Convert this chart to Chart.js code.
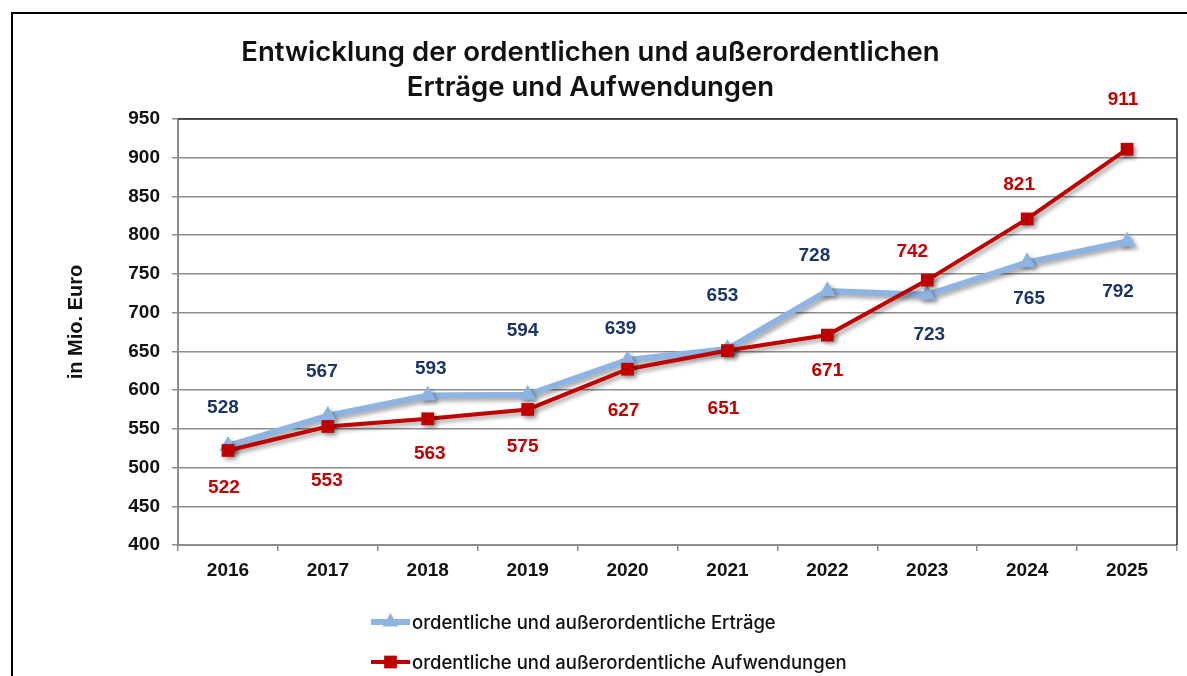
<!DOCTYPE html>
<html>
<head>
<meta charset="utf-8">
<script src="https://cdn.jsdelivr.net/npm/chart.js"></script>
<style>
  html, body { margin: 0; padding: 0; background: #fff; }
  #wrap { position: relative; width: 1187px; height: 676px; overflow: hidden; }
  #frame { position: absolute; left: 11px; top: 12px; width: 1300px; height: 800px;
           border-left: 2px solid #000; border-top: 2px solid #000; box-sizing: border-box; pointer-events: none; }
  canvas { position: absolute; left: 0; top: 0; }
</style>
</head>
<body>
<div id="wrap">
  <canvas id="c"></canvas>
  <div id="frame"></div>
</div>
<script>
// ---- data ----
const categories = ['2016','2017','2018','2019','2020','2021','2022','2023','2024','2025'];
const ertraege = [528, 567, 593, 594, 639, 653, 728, 723, 765, 792];
const aufwendungen = [522, 553, 563, 575, 627, 651, 671, 742, 821, 911];
const seriesNames = ['ordentliche und außerordentliche Erträge', 'ordentliche und außerordentliche Aufwendungen'];
const titleLines = ['Entwicklung der ordentlichen und außerordentlichen', 'Erträge und Aufwendungen'];
const yAxisTitle = 'in Mio. Euro';

// ---- label placement (px offsets from the point) ----
const ertraegeLabelDx = [-5, -6, 3, -5, -7, -5, -13, 2, 2, -9];
const ertraegeLabelDy = [-38, -44, -27, -64, -31, -53, -35, 40, 36, 50];
const aufwLabelDx = [-4, -1, 2, -5, -4, -4, 0, -15, -8, -4];
const aufwLabelDy = [37, 54, 35, 37, 42, 58, 36, -28, -34, -49];

const BLUE = '#8DB4E2';
const RED = '#C00000';
const NAVY = '#1B3567';
const GRID = '#8C8C8C';
const ARIAL = '"Liberation Sans", Arial, sans-serif';

const shadowPlugin = {
  id: 'shadow',
  beforeDatasetDraw(chart) {
    const ctx = chart.ctx;
    ctx.save();
    ctx.shadowColor = 'rgba(0,0,0,0.35)';
    ctx.shadowOffsetX = 3;
    ctx.shadowOffsetY = 3;
    ctx.shadowBlur = 4;
  },
  afterDatasetDraw(chart) { chart.ctx.restore(); }
};

const framePlugin = {
  id: 'frame',
  beforeDatasetsDraw(chart) {
    const {ctx, chartArea: a} = chart;
    ctx.save();
    ctx.strokeStyle = '#2b2b2b';
    ctx.lineWidth = 1.5;
    ctx.beginPath();
    ctx.moveTo(a.left, a.top);
    ctx.lineTo(a.right, a.top);
    ctx.lineTo(a.right, a.bottom);
    ctx.stroke();
    // y axis title
    ctx.translate(76, 322);
    ctx.rotate(-Math.PI / 2);
    ctx.fillStyle = '#111';
    ctx.font = 'bold 20px ' + ARIAL;
    ctx.textAlign = 'center';
    ctx.textBaseline = 'middle';
    ctx.fillText(yAxisTitle, 0, 0);
    ctx.restore();
  }
};

const labelPlugin = {
  id: 'valueLabels',
  afterDatasetsDraw(chart) {
    const ctx = chart.ctx;
    ctx.save();
    ctx.font = 'bold 19px ' + ARIAL;
    ctx.textAlign = 'center';
    ctx.textBaseline = 'middle';
    chart.data.datasets.forEach((ds, di) => {
      const meta = chart.getDatasetMeta(di);
      meta.data.forEach((pt, i) => {
        ctx.fillStyle = ds.labelColor;
        ctx.fillText(String(ds.data[i]), pt.x + ds.labelDx[i], pt.y + ds.labelDy[i]);
      });
    });
    ctx.restore();
  }
};

function drawMarker(ctx, style, x, y, r, color) {
  ctx.fillStyle = color;
  ctx.beginPath();
  if (style === 'triangle') {
    ctx.moveTo(x, y - r);
    ctx.lineTo(x + r * 0.866, y + r * 0.5);
    ctx.lineTo(x - r * 0.866, y + r * 0.5);
    ctx.closePath();
  } else {
    const s = r * Math.SQRT1_2;
    ctx.rect(x - s, y - s, 2 * s, 2 * s);
  }
  ctx.fill();
}

const legendPlugin = {
  id: 'customLegend',
  afterDraw(chart) {
    const ctx = chart.ctx;
    const rows = [622, 662];
    ctx.save();
    chart.data.datasets.forEach((ds, i) => {
      const y = rows[i];
      ctx.strokeStyle = ds.borderColor;
      ctx.lineWidth = ds.borderWidth;
      ctx.beginPath();
      ctx.moveTo(371, y);
      ctx.lineTo(410, y);
      ctx.stroke();
      drawMarker(ctx, ds.pointStyle, 390.5, y, 9, ds.borderColor);
      ctx.fillStyle = '#111';
      ctx.font = '500 18.5px Inter, "Noto Sans", sans-serif';
      ctx.textAlign = 'left';
      ctx.textBaseline = 'middle';
      ctx.fillText(ds.label, 412, y + 1);
    });
    ctx.restore();
  }
};

new Chart(document.getElementById('c'), {
  type: 'line',
  data: {
    labels: categories,
    datasets: [
      {
        label: seriesNames[0],
        data: ertraege,
        borderColor: BLUE,
        backgroundColor: BLUE,
        borderWidth: 6,
        pointStyle: 'triangle',
        pointRadius: 10,
        pointBorderWidth: 0,
        pointBackgroundColor: BLUE,
        tension: 0,
        order: 2,
        labelColor: NAVY,
        labelDx: ertraegeLabelDx,
        labelDy: ertraegeLabelDy
      },
      {
        label: seriesNames[1],
        data: aufwendungen,
        borderColor: RED,
        backgroundColor: RED,
        borderWidth: 4,
        pointStyle: 'rect',
        pointRadius: 9,
        pointBorderWidth: 0,
        pointBackgroundColor: RED,
        tension: 0,
        order: 1,
        labelColor: RED,
        labelDx: aufwLabelDx,
        labelDy: aufwLabelDy
      }
    ]
  },
  options: {
    responsive: true,
    maintainAspectRatio: false,
    animation: false,
    layout: { padding: { left: 0, right: 6, top: 0, bottom: 0 } },
    plugins: {
      legend: { display: false },
      tooltip: { enabled: false },
      title: {
        display: true,
        text: titleLines,
        color: '#111',
        font: { family: 'Inter, "Noto Sans", sans-serif', size: 27.5, weight: '600', lineHeight: '35px' },
        padding: { top: 35.5, bottom: 13.5 }
      }
    },
    scales: {
      x: {
        offset: true,
        grid: { display: true, drawOnChartArea: false, drawTicks: true, tickLength: 6, color: GRID, lineWidth: 1.5, offset: true },
        border: { display: true, color: GRID, width: 2 },
        ticks: { color: '#111', padding: 8, font: { family: ARIAL, size: 19, weight: 'bold' }, maxRotation: 0 },
        afterFit(scale) { scale.height = 676 - 545; }
      },
      y: {
        min: 400,
        max: 950,
        ticks: { stepSize: 50, color: '#111', padding: 12, font: { family: ARIAL, size: 19, weight: 'bold' } },
        grid: { color: GRID, lineWidth: 1.5, drawTicks: true, tickLength: 6 },
        border: { display: true, color: GRID, width: 2 },
        afterFit(scale) { scale.width = 178; }
      }
    }
  },
  plugins: [shadowPlugin, framePlugin, labelPlugin, legendPlugin]
});
</script>
</body>
</html>
